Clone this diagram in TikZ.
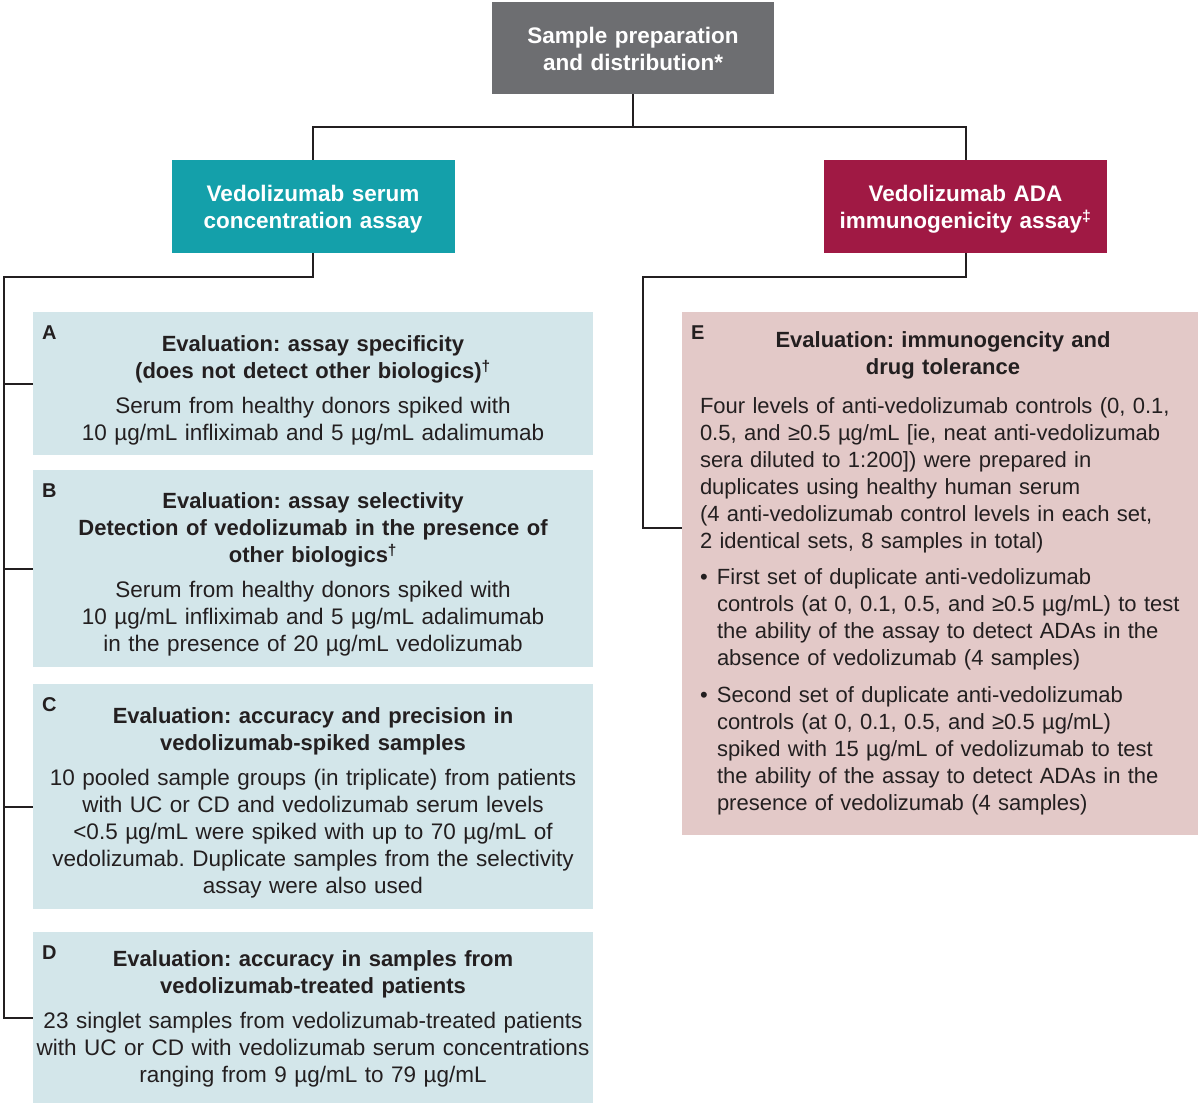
\documentclass[tikz,border=0pt]{standalone}
\usepackage{fontspec}
\setmainfont{Liberation Sans}
\setlength{\parindent}{0pt}
\frenchspacing
\definecolor{greybox}{HTML}{6D6E71}
\definecolor{tealbox}{HTML}{14A0AA}
\definecolor{redbox}{HTML}{A01944}
\definecolor{bluefill}{HTML}{D3E6EA}
\definecolor{pinkfill}{HTML}{E3C9C8}
\definecolor{txt}{HTML}{231F20}
\newcommand\evt[1]{{\bfseries\fontsize{22}{27}\selectfont #1}}
\newcommand\bul{\makebox[17pt][l]{•}}
\newcommand\ind{\hspace*{17pt}}
\begin{document}
\begin{tikzpicture}[x=1pt,y=-1pt,
  head/.style={rectangle, inner sep=0pt, minimum width=283pt, minimum height=93pt},
  headtext/.style={inner sep=0pt, text=white, text width=280pt, align=center,
    font=\bfseries\fontsize{22.5}{27}\selectfont},
  panel/.style={rectangle, inner sep=0pt, fill=bluefill, minimum width=560pt},
  ptext/.style={inner sep=0pt, text width=556pt, align=center, text=txt,
    font=\fontsize{22.5}{27}\selectfont},
  conn/.style={line width=2pt, draw=txt},
  lbl/.style={anchor=north west, inner sep=0pt, text=txt, font=\bfseries\fontsize{20}{20}\selectfont}]
\useasboundingbox (0,0) rectangle (1200,1105);

% header boxes
\node[head, fill=greybox, minimum width=282pt, minimum height=92pt] (top) at (633,48) {};
\node[headtext] (toptext) at ([yshift=-1pt]top.center) {Sample preparation\\and distribution*};
\node[head, fill=tealbox] (teal) at (313,206.5) {};
\node[headtext] (tealtext) at ([yshift=-3pt]teal.center) {Vedolizumab serum\\concentration assay};
\node[head, fill=redbox] (red) at (965.5,206.5) {};
\node[headtext] (redtext) at ([yshift=-3pt]red.center) {Vedolizumab ADA\\immunogenicity assay\textsuperscript{‡}};

% left panels
\node[panel, minimum height=143pt] (A) at (313,383.5) {};
\node[ptext] (atext) at ([yshift=-7pt]A.center)
  {\evt{Evaluation: assay specificity\\(does not detect other biologics)\textsuperscript{†}}\\[8pt]%
   Serum from healthy donors spiked with\\10 µg/mL infliximab and 5 µg/mL adalimumab};
\node[panel, minimum height=197pt] (B) at (313,568.5) {};
\node[ptext] (btext) at ([yshift=-6pt]B.center)
  {\evt{Evaluation: assay selectivity\\Detection of vedolizumab in the presence of\\other biologics\textsuperscript{†}}\\[8pt]%
   Serum from healthy donors spiked with\\10 µg/mL infliximab and 5 µg/mL adalimumab\\in the presence of 20 µg/mL vedolizumab};
\node[panel, minimum height=225pt] (C) at (313,796.5) {};
\node[ptext] (ctext) at ([yshift=-6pt]C.center)
  {\evt{Evaluation: accuracy and precision in\\vedolizumab-spiked samples}\\[8pt]%
   10 pooled sample groups (in triplicate) from patients\\with UC or CD and vedolizumab serum levels\\<0.5 µg/mL were spiked with up to 70 µg/mL of\\vedolizumab. Duplicate samples from the selectivity\\assay were also used};
\node[panel, minimum height=171pt] (D) at (313,1017.5) {};
\node[ptext] (dtext) at ([yshift=-1pt]D.center)
  {\evt{Evaluation: accuracy in samples from\\vedolizumab-treated patients}\\[8pt]%
   23 singlet samples from vedolizumab-treated patients\\with UC or CD with vedolizumab serum concentrations\\ranging from 9 µg/mL to 79 µg/mL};

% right panel
\node[rectangle, inner sep=0pt, fill=pinkfill, minimum width=516pt, minimum height=523pt] (E) at (940,573.5) {};
\node[anchor=west, inner sep=0pt, text width=500pt, align=left, text=txt,
  font=\fontsize{22}{27}\selectfont] (etext) at ([xshift=18pt]E.west)
  {{\centering\advance\rightskip 14pt\evt{Evaluation: immunogencity and\\drug tolerance}\par}\vspace{12pt}%
   Four levels of anti-vedolizumab controls (0, 0.1,\\
   0.5, and ≥0.5 µg/mL [ie, neat anti-vedolizumab\\
   sera diluted to 1:200]) were prepared in\\
   duplicates using healthy human serum\\
   (4 anti-vedolizumab control levels in each set,\\
   2 identical sets, 8 samples in total)\par\vspace{9pt}%
   \bul First set of duplicate anti-vedolizumab\\
   \ind controls (at 0, 0.1, 0.5, and ≥0.5 µg/mL) to test\\
   \ind the ability of the assay to detect ADAs in the\\
   \ind absence of vedolizumab (4 samples)\par\vspace{10pt}%
   \bul Second set of duplicate anti-vedolizumab\\
   \ind controls (at 0, 0.1, 0.5, and ≥0.5 µg/mL)\\
   \ind spiked with 15 µg/mL of vedolizumab to test\\
   \ind the ability of the assay to detect ADAs in the\\
   \ind presence of vedolizumab (4 samples)};

% letter labels
\node[lbl] (la) at ([xshift=9pt,yshift=-14pt]A.north west) {A};
\node[lbl] (lb) at ([xshift=9pt,yshift=-14pt]B.north west) {B};
\node[lbl] (lc) at ([xshift=9pt,yshift=-14pt]C.north west) {C};
\node[lbl] (ld) at ([xshift=9pt,yshift=-14pt]D.north west) {D};
\node[lbl] (le) at ([xshift=9pt,yshift=-14pt]E.north west) {E};

% connectors
\coordinate (jtop) at (633,127);
\coordinate (lt) at (4,277);
\coordinate (rt) at (643,277);
\draw[conn] (top.south) -- (jtop);
\draw[conn] (teal.north) |- (jtop) -| (red.north);
\draw[conn] (teal.south) |- (lt) |- (D.west);
\draw[conn] (lt |- A.west) -- (A.west);
\draw[conn] (lt |- B.west) -- (B.west);
\draw[conn] ([yshift=-10pt]lt |- C.west) -- ([yshift=-10pt]C.west);
\draw[conn] (red.south) |- (rt) |- ([yshift=46pt]E.west);
\end{tikzpicture}
\end{document}
